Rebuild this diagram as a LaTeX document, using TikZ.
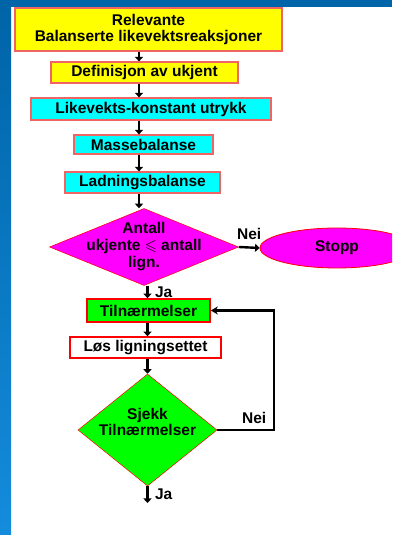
\documentclass[tikz,border=0pt]{standalone}
\usepackage{amssymb}
\usepackage{fontspec}
\setmainfont{Liberation Sans}
\usetikzlibrary{shapes.geometric, arrows.meta}
\definecolor{lysrod}{RGB}{240,100,100}
\definecolor{kantbla}{RGB}{0,100,168}
\definecolor{lysbla}{RGB}{20,140,220}
\definecolor{gul}{RGB}{255,255,0}
\definecolor{turkis}{RGB}{0,255,255}
\definecolor{rosa}{RGB}{255,0,255}
\definecolor{gronn}{RGB}{0,255,0}
\tikzset
{
    tekst/.style={font=\bfseries\fontsize{15.5}{16}\selectfont, align=center}, % felles skrift
    boks/.style={tekst, rectangle, draw=lysrod, line width=1.2pt, inner sep=0pt},
    rute/.style={diamond, draw=red, line width=0.5pt, inner sep=0pt, minimum size=0pt},
    pil/.style={line width=2.4pt, -{Triangle[width=8pt,length=4.5pt]}}, % korte piler
    retur/.style={line width=2.4pt, -{Stealth[width=8pt,length=7pt]}},
}

\begin{document}
\begin{tikzpicture}[x=1pt, y=1pt]
    % Bakgrunn
    \clip (0,0) rectangle (392,535);
    \fill[white] (0,0) rectangle (392,535);
    \fill[kantbla] (0,528) rectangle (392,535);
    \shade[top color=kantbla, bottom color=lysbla] (0,0) rectangle (11,528);
    \coordinate (akse1) at (139,0);
    \coordinate (akse2) at (147.5,0);

    % Noder
    \node[boks, fill=gul, minimum width=267pt, minimum height=43pt] (rel) at (148.5,505.5) {Relevante\\Balanserte likevektsreaksjoner};
    \node[boks, fill=gul, minimum width=187pt, minimum height=21pt] (def) at (144.5,462.5) {Definisjon av ukjent};
    \node[boks, fill=turkis, minimum width=240pt, minimum height=22pt] (lik) at (151,426) {Likevekts-konstant utrykk};
    \node[boks, fill=turkis, minimum width=139pt, minimum height=19pt] (mas) at (143.5,390.5) {Massebalanse};
    \node[boks, fill=turkis, minimum width=155pt, minimum height=21pt] (lad) at (142.5,352.5) {Ladningsbalanse};
    \node[rute, fill=rosa, minimum width=189pt, minimum height=77pt,
          label={[tekst, font=\bfseries\fontsize{15.5}{17}\selectfont]center:Antall\\ukjente $\leqslant$ antall\\lign.}] (antall) at (144,288) {};
    \node[ellipse, draw=red, fill=rosa, line width=0.8pt, minimum width=154pt, minimum height=40pt, tekst] (stopp) at (337,287) {Stopp};
    \node[boks, draw=red, line width=1.6pt, fill=gronn, minimum width=123pt, minimum height=23pt] (tiln) at (148.5,224.5) {Tilnærmelser};
    \node[boks, draw=red, line width=1.6pt, fill=white, minimum width=151pt, minimum height=21pt] (los) at (145.5,187.5) {Løs ligningsettet};
    \node[rute, fill=gronn, minimum width=139pt, minimum height=112pt,
          label={[tekst, yshift=8pt]center:Sjekk\\Tilnærmelser}] (sjekk) at (147.5,105) {};
    \coordinate (slutt) at (147.5,32);
    \coordinate (hjorne) at (274,0);

    % Piler nedover
    \draw[pil] (rel.south -| akse1) -- (def.north -| akse1);
    \draw[pil] (def.south -| akse1) -- (lik.north -| akse1);
    \draw[pil] (lik.south -| akse1) -- (mas.north -| akse1);
    \draw[pil] (mas.south -| akse1) -- (lad.north -| akse1);
    \draw[pil] (lad.south -| akse1) -- (antall.north -| akse1);
    \draw[pil] (antall.south -| akse2) -- node[tekst, right=3pt] {Ja} (tiln.north -| akse2);
    \draw[pil] (tiln.south -| akse2) -- (los.north -| akse2);
    \draw[pil] (los.south -| akse2) -- (sjekk.north);
    \draw[pil] (sjekk.south) -- node[tekst, right=3pt] {Ja} (slutt);

    % Nei-grener
    \draw[pil] (antall.east) -- node[tekst, above=3pt] {Nei} (stopp.west);
    \draw[retur] (sjekk.east) -- node[tekst, above=2pt, pos=0.65] {Nei} (sjekk.east -| hjorne) |- (tiln.east);
\end{tikzpicture}
\end{document}
